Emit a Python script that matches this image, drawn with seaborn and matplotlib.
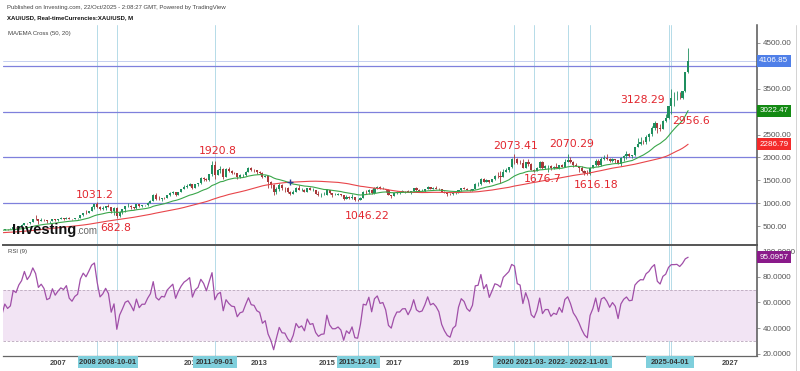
import numpy as np
import pandas as pd
import matplotlib
matplotlib.use('Agg')
import matplotlib.pyplot as plt
import matplotlib.transforms as mtransforms
from matplotlib.patches import Rectangle
import seaborn as sns

sns.set_style("white")
plt.rcParams['font.family'] = ['DejaVu Sans']

# monthly closes XAU/USD, Jan 2001 .. Oct 2025 (2001-Apr 2005 only warms up the MA / RSI)
closes = [
    265.6, 266.7, 258.0, 264.0, 267.0, 270.0, 265.0, 273.0, 293.0, 279.0, 275.0, 278.0,   # 2001
    282, 296, 302, 308, 326, 318, 304, 312, 323, 317, 319, 347,                            # 2002
    367, 347, 334, 336, 361, 346, 354, 375, 385, 386, 398, 416,                            # 2003
    400, 396, 427, 387, 394, 394, 391, 408, 416, 428, 453, 438,                            # 2004
    423, 434, 428, 436, 415, 436, 429, 434, 473, 470, 495, 513,                            # 2005
    569, 556, 582, 654, 643, 614, 633, 624, 599, 604, 646, 632,                            # 2006
    650, 665, 662, 679, 656, 650, 665, 672, 743, 790, 783, 834,                            # 2007
    923, 972, 916, 864, 886, 930, 912, 833, 884, 716, 815, 866,                            # 2008
    928, 942, 916, 883, 979, 927, 955, 955, 1001, 1040, 1182, 1096,                        # 2009
    1081, 1116, 1113, 1179, 1212, 1244, 1181, 1248, 1307, 1357, 1384, 1421,                # 2010
    1333, 1409, 1439, 1556, 1536, 1500, 1628, 1826, 1620, 1715, 1746, 1566,                # 2011
    1738, 1697, 1669, 1664, 1562, 1604, 1614, 1691, 1772, 1719, 1714, 1675,                # 2012
    1663, 1579, 1596, 1472, 1393, 1234, 1313, 1396, 1327, 1323, 1250, 1202,                # 2013
    1244, 1326, 1284, 1296, 1250, 1327, 1282, 1287, 1210, 1172, 1182, 1184,                # 2014
    1283, 1213, 1183, 1183, 1191, 1172, 1095, 1134, 1115, 1142, 1065, 1061,                # 2015
    1118, 1238, 1234, 1293, 1215, 1322, 1350, 1309, 1316, 1277, 1173, 1151,                # 2016
    1211, 1249, 1249, 1268, 1269, 1242, 1269, 1322, 1280, 1271, 1275, 1303,                # 2017
    1345, 1318, 1325, 1315, 1299, 1253, 1224, 1201, 1192, 1215, 1222, 1282,                # 2018
    1321, 1313, 1292, 1284, 1305, 1409, 1413, 1520, 1472, 1513, 1464, 1517,                # 2019
    1589, 1585, 1577, 1687, 1730, 1781, 1975, 1968, 1886, 1879, 1776, 1898,                # 2020
    1847, 1734, 1708, 1769, 1906, 1770, 1814, 1814, 1757, 1783, 1774, 1829,                # 2021
    1797, 1909, 1937, 1897, 1837, 1807, 1766, 1711, 1661, 1633, 1768, 1824,                # 2022
    1928, 1827, 1969, 1990, 1962, 1919, 1965, 1940, 1849, 1983, 2036, 2063,                # 2023
    2039, 2044, 2230, 2286, 2327, 2326, 2447, 2503, 2634, 2744, 2643, 2625,                # 2024
    2798, 2858, 3124, 3289, 3289, 3303, 3290, 3448, 3858, 4106.85,                         # 2025
]

# highs / lows of the drawn candles, May 2005 .. Oct 2025
highs = [
    437, 443, 438, 447, 476, 478, 497, 540,
    575, 574, 586, 659, 730, 643, 677, 652, 640, 610, 649, 648,
    655, 690, 672, 692, 691, 664, 686, 677, 745, 795, 841, 838,
    928, 975, 1031.2, 935, 936, 940, 987, 915, 906, 910, 823, 881,
    938, 1006, 962, 921, 980, 989, 960, 964, 1018, 1069, 1195, 1227,
    1161, 1122, 1129, 1180, 1249, 1265, 1245, 1250, 1307, 1388, 1424, 1431,
    1424, 1410, 1444, 1575, 1577, 1552, 1632, 1913, 1920.8, 1756, 1804, 1764,
    1764, 1791, 1715, 1675, 1668, 1640, 1630, 1692, 1790, 1796, 1755, 1726,
    1695, 1680, 1617, 1600, 1487, 1424, 1348, 1434, 1425, 1362, 1361, 1267,
    1280, 1345, 1392, 1331, 1306, 1332, 1345, 1323, 1288, 1255, 1221, 1239,
    1307, 1291, 1220, 1224, 1232, 1205, 1177, 1170, 1157, 1191, 1143, 1089,
    1127, 1263, 1282, 1303, 1304, 1362, 1375, 1367, 1353, 1318, 1306, 1180,
    1220, 1264, 1262, 1295, 1272, 1296, 1270, 1331, 1357, 1306, 1300, 1306,
    1366, 1361, 1356, 1369, 1326, 1309, 1266, 1237, 1214, 1243, 1237, 1284,
    1326, 1347, 1324, 1310, 1306, 1439, 1452, 1555, 1557, 1517, 1516, 1525,
    1611, 1689, 1704, 1748, 1765, 1789, 1981, 2073.41, 1992, 1933, 1966, 1906,
    1959, 1872, 1755, 1798, 1913, 1916, 1833, 1834, 1834, 1814, 1877, 1832,
    1853, 1974, 2070.29, 1998, 1910, 1880, 1814, 1808, 1735, 1729, 1786, 1833,
    1959, 1960, 2009, 2049, 2079, 1984, 1987, 1966, 1953, 2009, 2052, 2135,
    2088, 2052, 2236, 2431, 2450, 2369, 2484, 2531, 2685, 2790, 2761, 2726,
    2817, 2956, 3128.29, 3500, 3435, 3452, 3439, 3453, 3870, 4381,
]
lows = [
    414, 414, 418, 426, 433, 456, 458, 495,
    512, 538, 537, 580, 642, 542, 612, 613, 561, 560, 603, 605,
    604, 648, 638, 660, 648, 641, 648, 646, 671, 725, 770, 780,
    832, 879, 885, 856, 852, 858, 907, 786, 740, 682.8, 704, 752,
    804, 920, 877, 865, 875, 913, 905, 938, 937, 994, 1038, 1076,
    1076, 1044, 1098, 1113, 1166, 1203, 1155, 1175, 1238, 1305, 1332, 1373,
    1308, 1326, 1380, 1419, 1478, 1478, 1483, 1601, 1534, 1604, 1667, 1523,
    1563, 1689, 1628, 1627, 1527, 1547, 1566, 1590, 1690, 1692, 1673, 1636,
    1627, 1555, 1563, 1321, 1339, 1180, 1207, 1271, 1291, 1251, 1228, 1181,
    1200, 1242, 1277, 1268, 1240, 1240, 1280, 1274, 1204, 1162, 1131, 1170,
    1168, 1197, 1142, 1170, 1170, 1162, 1077, 1081, 1099, 1098, 1053, 1046.22,
    1060, 1111, 1208, 1209, 1200, 1199, 1310, 1302, 1304, 1241, 1171, 1122,
    1146, 1206, 1195, 1241, 1214, 1236, 1204, 1266, 1261, 1262, 1264, 1237,
    1302, 1307, 1303, 1301, 1282, 1250, 1211, 1160, 1180, 1182, 1196, 1221,
    1276, 1310, 1281, 1266, 1267, 1301, 1382, 1400, 1459, 1459, 1445, 1454,
    1516, 1548, 1451, 1568, 1670, 1671, 1757, 1863, 1849, 1860, 1764, 1775,
    1803, 1717, 1676.7, 1705, 1765, 1750, 1750, 1688, 1721, 1746, 1758, 1753,
    1780, 1780, 1895, 1872, 1787, 1805, 1681, 1688, 1620, 1618, 1616.18, 1765,
    1804, 1805, 1805, 1950, 1932, 1893, 1903, 1885, 1848, 1810, 1931, 1973,
    2002, 1984, 2039, 2228, 2277, 2287, 2293, 2364, 2471, 2604, 2537, 2583,
    2614, 2772, 2833, 2956.6, 3120, 3248, 3268, 3268, 3430, 3850,
]

# labelled swing points
swing_labels = ['1031.2', '682.8', '1920.8', '1046.22', '2073.41',
                '1676.7', '2070.29', '1616.18', '3128.29', '2956.6']
swing_months = ['2008-03', '2008-10', '2011-09', '2015-12', '2020-08',
                '2021-03', '2022-03', '2022-11', '2025-03', '2025-04']
swing_prices = [1031.2, 682.8, 1920.8, 1046.22, 2073.41,
                1676.7, 2070.29, 1616.18, 3128.29, 2956.6]
# text offset (points) from the swing point
swing_offsets = [(-2, 5), (-1, -7.5), (2, 7), (7, -11), (0.5, 6),
                 (6.5, -5), (3, 7.5), (4.5, -7.5), (-19, 4), (14.5, -5.5)]

h_levels = [1000, 2000, 3000, 4000]
# 3000 / 4000 sit under the value boxes, so they are left out
price_ticks = [500, 1000, 1500, 2000, 2500, 3500, 4500]
rsi_ticks = [20, 40, 60, 80, 100]
# year labels that are not hidden behind the highlighted dates
year_ticks = [2007, 2011, 2013, 2015, 2017, 2019, 2027]

last_boxes = [('4106.85', 4106.85, '#4f7fe8'),
              ('3022.47', 3022.47, '#138a13'),
              ('2286.79', 2286.79, '#f42a2a')]
rsi_box = ('95.0957', 95.0957, '#8a1a8a')

date_boxes = [(78, 138, '2008 2008-10-01'), (193, 237, '2011-09-01'),
              (337, 380, '2015-12-01'), (493, 612, '2020 2021-03- 2022- 2022-11-01'),
              (646, 694, '2025-04-01')]

UP = '#1f8f5f'
DOWN = '#a8383a'
HLINE = '#7f80dc'
VLINE = '#b5dbe8'
RED_TXT = '#e2262e'


def month_num(s):
    d = pd.Timestamp(s)
    return (d.year - 2000) * 12 + d.month - 1


dates = pd.date_range('2001-01-01', periods=len(closes), freq='MS')
mnum = np.array((dates.year - 2000) * 12 + dates.month - 1, dtype=float)
cl = pd.Series(closes, dtype=float)

ema20 = cl.ewm(span=20, adjust=False).mean()
sma50 = cl.rolling(50).mean()
delta = cl.diff()
gain = delta.clip(lower=0).ewm(alpha=1 / 9, adjust=False).mean()
loss = (-delta.clip(upper=0)).ewm(alpha=1 / 9, adjust=False).mean()
rsi = 100 - 100 / (1 + gain / loss)

start = len(closes) - len(highs)
df = pd.DataFrame({'m': mnum, 'close': cl, 'open': cl.shift(1),
                   'ema': ema20, 'sma': sma50, 'rsi': rsi}).iloc[start:].reset_index(drop=True)
df['high'] = highs
df['low'] = lows
df['high'] = df[['high', 'open', 'close']].max(axis=1)
df['low'] = df[['low', 'open', 'close']].min(axis=1)

W, H = 800, 371
fig = plt.figure(figsize=(W / 100, H / 100), dpi=100)


def fx(px):
    return px / W


def fy(py):
    return 1 - py / H


ax = fig.add_axes([fx(3), fy(244), fx(754), (244 - 25) / H])
axr = fig.add_axes([fx(3), fy(356), fx(754), (356 - 245) / H], sharex=ax)

xlim = (64.36, 333.6)
ax.set_xlim(*xlim)
ax.set_ylim(107, 4893)
axr.set_ylim(18.4, 104.7)

# vertical marker lines
for s in swing_months:
    for a in (ax, axr):
        a.axvline(month_num(s), color=VLINE, lw=0.7, zorder=0)

for lv in h_levels:
    ax.axhline(lv, color=HLINE, lw=0.9, zorder=1)
ax.axhline(4106.85, color='#bcc8ee', lw=0.6, zorder=1)

# candles
up = (df['close'] >= df['open']).values
cols = np.where(up, UP, DOWN)
ax.vlines(df['m'], df['low'], df['high'], colors=cols, lw=0.6, zorder=3)
ax.bar(df['m'], (df['close'] - df['open']).abs(), bottom=df[['open', 'close']].min(axis=1),
       width=0.75, color=cols, linewidth=0, zorder=3)

sns.lineplot(data=df, x='m', y='sma', ax=ax, color='#e8454a', lw=0.8, zorder=4)
sns.lineplot(data=df, x='m', y='ema', ax=ax, color='#3aa64a', lw=0.8, zorder=4)

# cross marker where EMA drops under the MA
diff = (df['ema'] - df['sma']).values
cross = np.where((diff[:-1] > 0) & (diff[1:] <= 0))[0]
for i in cross:
    ax.plot(df['m'][i + 1], df['sma'][i + 1], marker='+', color='#2a3f9a', ms=4, mew=1, zorder=5)

for t, m, p, off in zip(swing_labels, swing_months, swing_prices, swing_offsets):
    ax.annotate(t, (month_num(m), p), xytext=off, textcoords='offset points',
                ha='center', va='center', fontsize=7.8, color=RED_TXT, zorder=6)

# RSI pane
axr.axhspan(30, 70, color='#f2e4f4', zorder=0, lw=0)
axr.axhline(70, color='#b9a6bb', lw=0.6, ls=(0, (3, 2)), zorder=1)
axr.axhline(30, color='#b9a6bb', lw=0.6, ls=(0, (3, 2)), zorder=1)
sns.lineplot(data=df, x='m', y='rsi', ax=axr, color='#a04fa8', lw=0.9, zorder=3)

for a in (ax, axr):
    a.set_xlabel('')
    a.set_ylabel('')
    a.yaxis.tick_right()
    for sp in ('left', 'top', 'bottom'):
        a.spines[sp].set_visible(False)
    a.spines['right'].set_color('#555555')
    a.spines['right'].set_linewidth(1.1)
    a.tick_params(axis='y', length=2, width=0.6, color='#888888', pad=2,
                  labelsize=5.8, labelcolor='#555555')

axr.spines['top'].set_visible(True)
axr.spines['top'].set_color('#555555')
axr.spines['top'].set_linewidth(1.4)
axr.spines['bottom'].set_visible(True)
axr.spines['bottom'].set_color('#666666')
axr.spines['bottom'].set_linewidth(0.9)

ax.set_yticks(price_ticks)
ax.set_yticklabels([f'{v:.2f}' for v in price_ticks], family='Liberation Sans')
ax.tick_params(axis='x', bottom=False, labelbottom=False)

axr.set_yticks(rsi_ticks)
axr.set_yticklabels([f'{v:.4f}' for v in rsi_ticks], family='Liberation Sans')
axr.set_xticks([(y - 2000) * 12 for y in year_ticks])
axr.set_xticklabels([str(y) for y in year_ticks], family='Liberation Sans',
                    fontweight='bold', fontsize=5.4, color='#444444')
axr.tick_params(axis='x', length=0, pad=3)
axr.set_xlim(*xlim)

# value boxes on the price scale
tr = mtransforms.blended_transform_factory(ax.transAxes, ax.transData)
for txt, val, c in last_boxes:
    ax.text(1.003, val, txt, transform=tr, ha='left', va='center', fontsize=5.8,
            color='white', family='Liberation Sans', zorder=10, clip_on=False,
            bbox=dict(boxstyle='square,pad=0.32', fc=c, ec='none'))
trr = mtransforms.blended_transform_factory(axr.transAxes, axr.transData)
axr.text(1.003, rsi_box[1], rsi_box[0], transform=trr, ha='left', va='center', fontsize=5.8,
         color='white', family='Liberation Sans', zorder=10, clip_on=False,
         bbox=dict(boxstyle='square,pad=0.32', fc=rsi_box[2], ec='none'))

# highlighted dates on the time scale
for x0, x1, txt in date_boxes:
    fig.add_artist(Rectangle((fx(x0), fy(368)), fx(x1 - x0), 12 / H, transform=fig.transFigure,
                             fc='#7fcfdc', ec='none', zorder=5))
    fig.text(fx((x0 + x1) / 2), fy(362), txt, ha='center', va='center', fontsize=5.4,
             fontweight='bold', color='#333333', family='Liberation Sans', zorder=6)

# right border of the scale area
fig.add_artist(plt.Line2D([fx(796), fx(796)], [fy(25), fy(371)], transform=fig.transFigure,
                          color='#cccccc', lw=0.6))

# headers
fig.text(fx(7), fy(7), 'Published on Investing.com, 22/Oct/2025 - 2:08:27 GMT, Powered by TradingView',
         ha='left', va='center', fontsize=4.3, color='#444444', family='Liberation Sans')
fig.text(fx(7), fy(18), 'XAU/USD, Real-timeCurrencies:XAU/USD, M', ha='left', va='center',
         fontsize=4.3, fontweight='bold', color='#111111', family='Liberation Sans')
fig.text(fx(8), fy(33), 'MA/EMA Cross (50, 20)', ha='left', va='center',
         fontsize=4.3, color='#444444', family='Liberation Sans')
fig.text(fx(8), fy(252), 'RSI (9)', ha='left', va='center',
         fontsize=4.3, color='#444444', family='Liberation Sans')

# watermark
fig.text(fx(12), fy(234), 'Investing', ha='left', va='baseline', fontsize=10.5,
         fontweight='bold', color='#111111', family='Liberation Sans', zorder=7)
fig.text(fx(76), fy(234), '.com', ha='left', va='baseline', fontsize=7,
         color='#666666', family='Liberation Sans', zorder=7)

fig.savefig('out.png', dpi=100)
